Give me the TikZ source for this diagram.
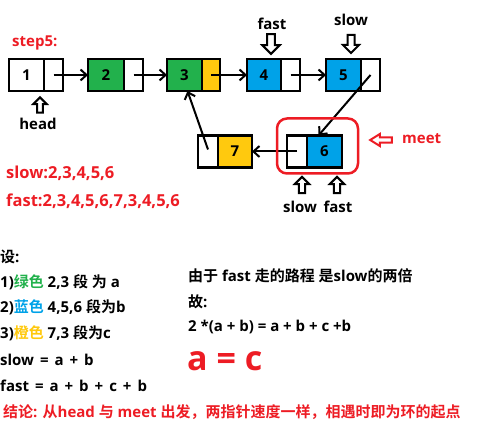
\documentclass[tikz,border=0pt]{standalone}
\usepackage{fontspec}
\setmainfont{Open Sans}
\newfontfamily\cjk{Noto Sans CJK SC}[BoldFont={* Bold}]
\usepackage{tikz}
\usetikzlibrary{arrows.meta, positioning, calc}
\definecolor{paintgreen}{HTML}{22B14C}
\definecolor{paintblue}{HTML}{00A2E8}
\definecolor{paintyellow}{HTML}{FFC90E}
\definecolor{paintred}{HTML}{ED1C24}
\newcommand\widespaces{\spaceskip 6pt\relax}
\tikzstyle{cell} = [rectangle, draw=black, line width=2.5pt, minimum height=32pt, inner sep=0pt, outer sep=0pt, text centered, font=\fontsize{15}{15}\selectfont\bfseries]
\tikzstyle{valcell} = [cell, minimum width=35pt]
\tikzstyle{ptrcell} = [cell, minimum width=19pt]
\tikzstyle{link} = [line width=2pt, -{Straight Barb[length=6pt, width=11pt]}, color=black]
\tikzstyle{txt} = [anchor=west, inner sep=0pt, font=\fontsize{15}{17}\selectfont\bfseries]
\tikzstyle{eqtxt} = [anchor=west, inner sep=0pt, font=\fontsize{15}{17}\selectfont\bfseries\widespaces]
\tikzstyle{redtxt} = [txt, text=paintred]
\tikzstyle{ptrlabel} = [txt, anchor=center]
\tikzset{hollowarrow/.pic={
    \draw[line width=2pt, fill=white, line join=miter, pic actions] (0,-9) -- (8,-1) -- (3.5,-1) -- (3.5,9) -- (-3.5,9) -- (-3.5,-1) -- (-8,-1) -- cycle;
}}

\begin{document}
\begin{tikzpicture}[x=1pt, y=-1pt]
    \useasboundingbox (0,0) rectangle (491,433);

    % List nodes
    \node[valcell] (n1v) at (26.5,75) {1};
    \node[ptrcell, right=0pt of n1v] (n1p) {};
    \node[valcell, fill=paintgreen, minimum width=36pt] (n2v) at (106,75) {2};
    \node[ptrcell, right=0pt of n2v] (n2p) {};
    \node[valcell, fill=paintgreen] (n3v) at (184.5,75) {3};
    \node[ptrcell, fill=paintyellow, minimum width=18pt, right=0pt of n3v] (n3p) {};
    \node[valcell, fill=paintblue, minimum width=34pt] (n4v) at (264,75) {4};
    \node[ptrcell, right=0pt of n4v] (n4p) {};
    \node[valcell, fill=paintblue] (n5v) at (343.5,75) {5};
    \node[ptrcell, right=0pt of n5v] (n5p) {};

    % Cycle part
    \node[valcell, fill=paintblue] (n6v) at (324.5,151.5) {6};
    \node[ptrcell, minimum width=20pt, left=0pt of n6v] (n6p) {};
    \node[valcell, fill=paintyellow, minimum width=34pt] (n7v) at (235,151.5) {7};
    \node[ptrcell, minimum width=20pt, left=0pt of n7v] (n7p) {};

    % Links
    \draw[link] (n1p.center) -- (n2v.west);
    \draw[link] (n2p.center) -- (n3v.west);
    \draw[link] (n3p.center) -- (n4v.west);
    \draw[link] (n4p.center) -- (n5v.west);
    \draw[link] (n5p.center) -- ([xshift=-6pt]n6v.north);
    \draw[link] (n6p.center) -- (n7v.east);
    \draw[link] ([yshift=2pt]n7p.center) -- ([xshift=3pt]n3v.south);

    % Meeting point
    \draw[paintred, line width=2.5pt, rounded corners=10pt] ($(n6p.north west)+(-10,-17)$) rectangle ($(n6v.south east)+(16,6)$);
    \pic[draw=paintred, rotate=90, xscale=0.75, yscale=1.2] at (381,140) {hollowarrow};
    \node[redtxt] (meet) at (402,139) {meet};

    % Pointers
    \node[ptrlabel] (headlbl) at (38,124) {head};
    \pic[scale=0.85] at (40,105) {hollowarrow};
    \node[ptrlabel] (fastlbl) at (272,24) {fast};
    \pic[rotate=180, scale=1.1] at (271,44) {hollowarrow};
    \node[ptrlabel] (slowlbl) at (351,20) {slow};
    \pic[rotate=180] at (351,44) {hollowarrow};
    \pic[scale=0.9] at (302,185) {hollowarrow};
    \node[ptrlabel] (slowmeet) at (300,207) {slow};
    \pic[scale=0.9] at (337,185) {hollowarrow};
    \node[ptrlabel] (fastmeet) at (338,207) {fast};

    % Left texts
    \node[redtxt] (step) at (12,43) {step5:};
    \node[redtxt, font=\fontsize{16.5}{18}\selectfont\bfseries] (slowpath) at (6,173) {slow:2,3,4,5,6};
    \node[redtxt, font=\fontsize{16.5}{18}\selectfont\bfseries] (fastpath) at (6,201) {fast:2,3,4,5,6,7,3,4,5,6};

    \node[txt] (let) at (0,257) {{\cjk 设}:};
    \node[txt] (segA) at (0,282) {1)\textcolor{paintgreen}{\cjk 绿色} 2,3 {\cjk 段} {\cjk 为} a};
    \node[txt] (segB) at (0,307) {2)\textcolor{paintblue}{\cjk 蓝色} 4,5,6 {\cjk 段为}b};
    \node[txt] (segC) at (0,333) {3)\textcolor{paintyellow}{\cjk 橙色} 7,3 {\cjk 段为}c};
    \node[eqtxt] (slowsum) at (0,360) {slow = a + b};
    \node[eqtxt] (fastsum) at (0,386) {fast = a + b + c + b};
    \node[redtxt] (result) at (3,412) {{\cjk 结论}: {\cjk 从}head {\cjk 与} meet {\cjk 出发，两指针速度一样，相遇时即为环的起点}};

    % Right texts
    \node[txt] (since) at (188,276) {{\cjk 由于} fast {\cjk 走的路程} {\cjk 是}slow{\cjk 的两倍}};
    \node[txt] (hence) at (188,302) {{\cjk 故}:};
    \node[txt] (eqn) at (188,327) {2 *(a + b) = a + b + c +b};
    \node[redtxt, font=\fontsize{34}{36}\selectfont\bfseries] (final) at (187,361) {a = c};
\end{tikzpicture}
\end{document}
